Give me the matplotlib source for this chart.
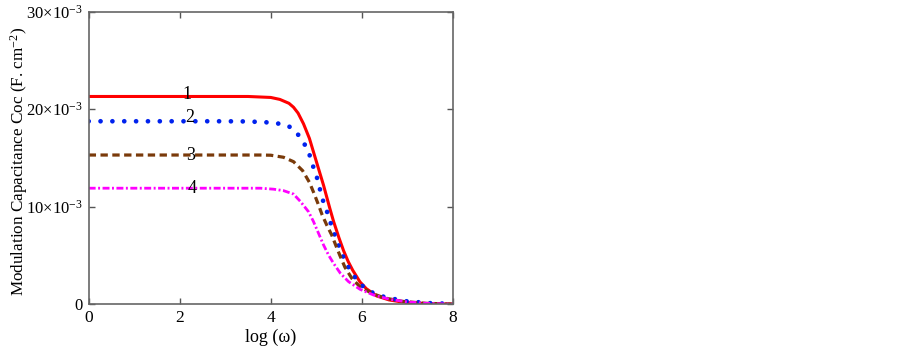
import matplotlib
matplotlib.use('Agg')
import matplotlib.pyplot as plt

plt.rcParams['font.family'] = ['Liberation Serif', 'DejaVu Serif']
plt.rcParams['mathtext.fontset'] = 'custom'
plt.rcParams['mathtext.rm'] = 'Liberation Serif'
plt.rcParams['mathtext.it'] = 'Liberation Serif:italic'

# curve 1 (red, solid)   values in 1e-3 F.cm^-2
x1 = [0, 1, 2, 3, 3.5, 4.0, 4.2, 4.4, 4.5, 4.6, 4.72, 4.85, 4.94, 5.05, 5.16,
      5.23, 5.3, 5.38, 5.5, 5.6, 5.7, 5.8, 5.96, 6.1, 6.33, 6.6, 6.84, 7.2, 7.6, 8.0]
y1 = [21.3, 21.3, 21.3, 21.3, 21.3, 21.2, 21.0, 20.6, 20.2, 19.6, 18.5, 17.0, 15.6, 13.9, 12.2,
      11.0, 9.8, 8.5, 6.8, 5.5, 4.4, 3.5, 2.3, 1.6, 0.85, 0.45, 0.27, 0.12, 0.05, 0.02]

# curve 2 (blue, dotted)
x2 = [0, 1, 2, 3, 3.5, 3.88, 4.13, 4.39, 4.57, 4.68, 4.79, 4.88, 4.94, 5.01, 5.07, 5.13,
      5.21, 5.28, 5.34, 5.42, 5.49, 5.56, 5.64, 5.74, 5.89, 6.07, 6.33, 6.62, 7.0, 7.5, 8.0]
y2 = [18.76, 18.76, 18.76, 18.76, 18.74, 18.66, 18.56, 18.28, 17.6, 16.85, 16.06, 14.97, 14.0,
      13.08, 12.0, 10.87, 9.84, 8.92, 7.96, 6.93, 6.08, 5.23, 4.37, 3.52, 2.49, 1.64, 0.95,
      0.62, 0.3, 0.12, 0.05]

# curve 3 (brown, dashed)
x3 = [0, 1, 2, 3, 3.77, 4.0, 4.28, 4.5, 4.7, 4.85, 4.95, 5.05, 5.13, 5.23, 5.34, 5.45,
      5.52, 5.63, 5.78, 5.96, 6.22, 6.5, 6.9, 7.4, 8.0]
y3 = [15.3, 15.3, 15.3, 15.3, 15.3, 15.28, 15.07, 14.62, 13.7, 12.5, 11.38, 10.18, 9.16,
      8.13, 7.1, 5.8, 5.0, 3.8, 2.67, 1.8, 1.13, 0.65, 0.3, 0.1, 0.03]

# curve 4 (magenta, dash-dot)
x4 = [0, 1, 2, 3, 3.77, 4.06, 4.28, 4.5, 4.65, 4.83, 4.94, 5.05, 5.16, 5.27, 5.38, 5.53,
      5.71, 5.96, 6.26, 6.62, 7.0, 7.5, 8.0]
y4 = [11.9, 11.9, 11.9, 11.9, 11.9, 11.8, 11.65, 11.3, 10.55, 9.49, 8.47, 7.28, 6.08, 5.05,
      4.2, 3.18, 2.32, 1.54, 0.95, 0.51, 0.25, 0.08, 0.02]

curve_labels = ['1', '2', '3', '4']
label_x = [2.17, 2.21, 2.25, 2.28]
label_y = [21.5, 19.1, 15.3, 11.9]

xticks = [0, 2, 4, 6, 8]
yticks = [0, 10, 20, 30]
ytick_labels = ['0', r'10$\times$10$^{-3}$', r'20$\times$10$^{-3}$', r'30$\times$10$^{-3}$']

fig = plt.figure(figsize=(9.02, 3.51), dpi=100)
ax = fig.add_axes([0.0983, 0.133, 0.4037, 0.834])

ax.plot(x1, y1, color='#ff0000', lw=2.2, solid_capstyle='round')
ax.plot(x2, y2, color='#0022ee', lw=3.4, linestyle=(0, (0.01, 2.5)), dash_capstyle='round')
ax.plot(x3, y3, color='#7a3a0a', lw=2.3, linestyle=(0, (2.3, 1.4)))
ax.plot(x4, y4, color='#ff00ff', lw=2.0, linestyle=(0, (2.5, 0.9, 0.7, 0.9)))

for t, lx, ly in zip(curve_labels, label_x, label_y):
    ax.text(lx, ly, t, fontsize=13, ha='center', va='center', color='black')

ax.set_xlim(0, 8)
ax.set_ylim(0, 30)
ax.set_xticks(xticks)
ax.set_yticks(yticks)
ax.set_yticklabels(ytick_labels)
ax.tick_params(direction='in', length=4, width=1, color='#555555', labelsize=12.5,
               top=True, right=True, pad=4)
ax.tick_params(axis='y', labelsize=12)
for s in ax.spines.values():
    s.set_color('#666666')
    s.set_linewidth(1.2)

ax.set_xlabel('log (ω)', fontsize=13, labelpad=2)
fig.text(0.021, 0.541, 'Modulation Capacitance Coc (F. cm$^{-2}$)', fontsize=12.3,
         rotation=90, ha='center', va='center')

fig.savefig('out.png', dpi=100)
